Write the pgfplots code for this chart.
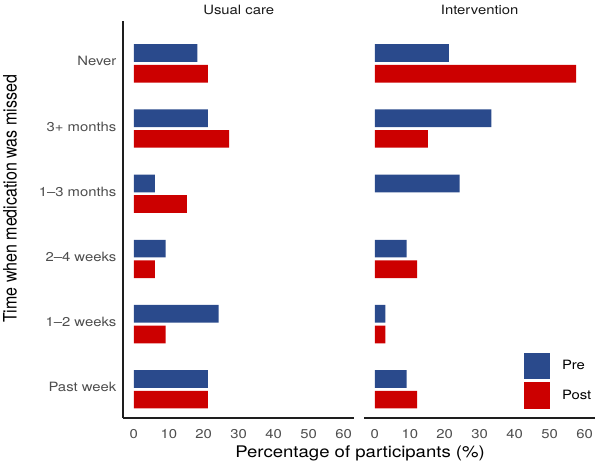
\documentclass[border=0pt]{standalone}
\usepackage{fontspec}
\setmainfont{TeX Gyre Heros}
\usepackage{pgfplots}
\pgfplotsset{compat=1.18}
\definecolor{preblue}{HTML}{2A4A8C}
\definecolor{postred}{HTML}{CC0000}
\definecolor{tickgray}{HTML}{4D4D4D}
\definecolor{axisgray}{HTML}{1E1E1E}
\newcommand\tk{\fontsize{12.8}{15}\selectfont}
\newcommand\ttl{\fontsize{16}{19}\selectfont}
\pgfplotsset{
  panel/.style={
    scale only axis, width=230.8pt, height=397pt,
    xmin=-3, xmax=63, ymin=-0.44, ymax=5.65,
    xtick={0,10,20,30,40,50,60},
    major tick length=0pt,
    /pgf/number format/assume math mode=true,
    xticklabel style={font=\tk, text=tickgray, anchor=base, yshift=-20.3pt, inner sep=0pt, xscale=1.16},
    axis line style={line width=1.7pt, color=axisgray, -},
    title style={at={(0.5,1)}, anchor=base, yshift=0pt, inner sep=0pt, font=\tk, text=black!90, xscale=1.16},
    clip=false,
  },
}
\pgfplotstableread{
y pre post
5 18.18 21.21
4 21.21 27.27
3 6.06 15.15
2 9.09 6.06
1 24.24 9.09
0 21.21 21.21
}\usualcare
\pgfplotstableread{
y pre post
5 21.21 57.58
4 33.33 15.15
3 24.24 0
2 9.09 12.12
1 3.03 3.03
0 9.09 12.12
}\intervention
\begin{document}
\begin{tikzpicture}
\begin{axis}[panel,
  at={(123.3pt,47pt)}, anchor=south west,
  title={Usual care},
  axis x line*=bottom, axis y line*=left,
  ytick={0,1,2,3,4,5},
  yticklabels={Past week,1–2 weeks,2–4 weeks,1–3 months,3+ months,Never},
  yticklabel style={font=\tk, text=tickgray, anchor=mid east, xshift=-6.7pt, inner sep=0pt, xscale=1.16},
  xlabel={Percentage of participants (\%)},
  xlabel style={at={(rel axis cs:1.026,0)}, anchor=base, yshift=-39.5pt, inner sep=0pt, font=\ttl, xscale=1.16},
  ylabel={Time when medication was missed},
  ylabel style={at={(rel axis cs:-0.462,0.5516)}, anchor=base, inner sep=0pt, font=\ttl, rotate=0, yscale=1.16},
]
\addplot[xbar, bar width=17.7pt, bar shift=10.3pt, fill=preblue, draw=none] table[x=pre, y=y] {\usualcare};
\addplot[xbar, bar width=17.7pt, bar shift=-10.3pt, fill=postred, draw=none] table[x=post, y=y] {\usualcare};
\end{axis}
\begin{axis}[panel,
  at={(364.3pt,47pt)}, anchor=south west,
  title={Intervention},
  axis x line*=bottom, axis y line=none,
  ytick=\empty,
  legend cell align=left,
  legend image code/.code={\fill[#1] (0pt,-13.35pt) rectangle (26.7pt,13.35pt);},
  legend style={at={(rel axis cs:0.6907,0.1645)}, anchor=north west, draw=none, fill=none, inner sep=0pt, outer sep=0pt,
    row sep=3pt, nodes={inner sep=0pt, font=\tk, xscale=1.16},
    /tikz/every odd column/.style={column sep=11.6pt}},
]
\addplot[xbar, bar width=17.7pt, bar shift=10.3pt, fill=preblue, draw=none] table[x=pre, y=y] {\intervention};
\addlegendentry{Pre}
\addplot[xbar, bar width=17.7pt, bar shift=-10.3pt, fill=postred, draw=none,
  x filter/.expression={x==0 ? nan : x}] table[x=post, y=y] {\intervention};
\addlegendentry{Post}
\end{axis}
\pgfresetboundingbox
\path[use as bounding box] (0,0) rectangle (597pt,465pt);
\end{tikzpicture}
\end{document}
